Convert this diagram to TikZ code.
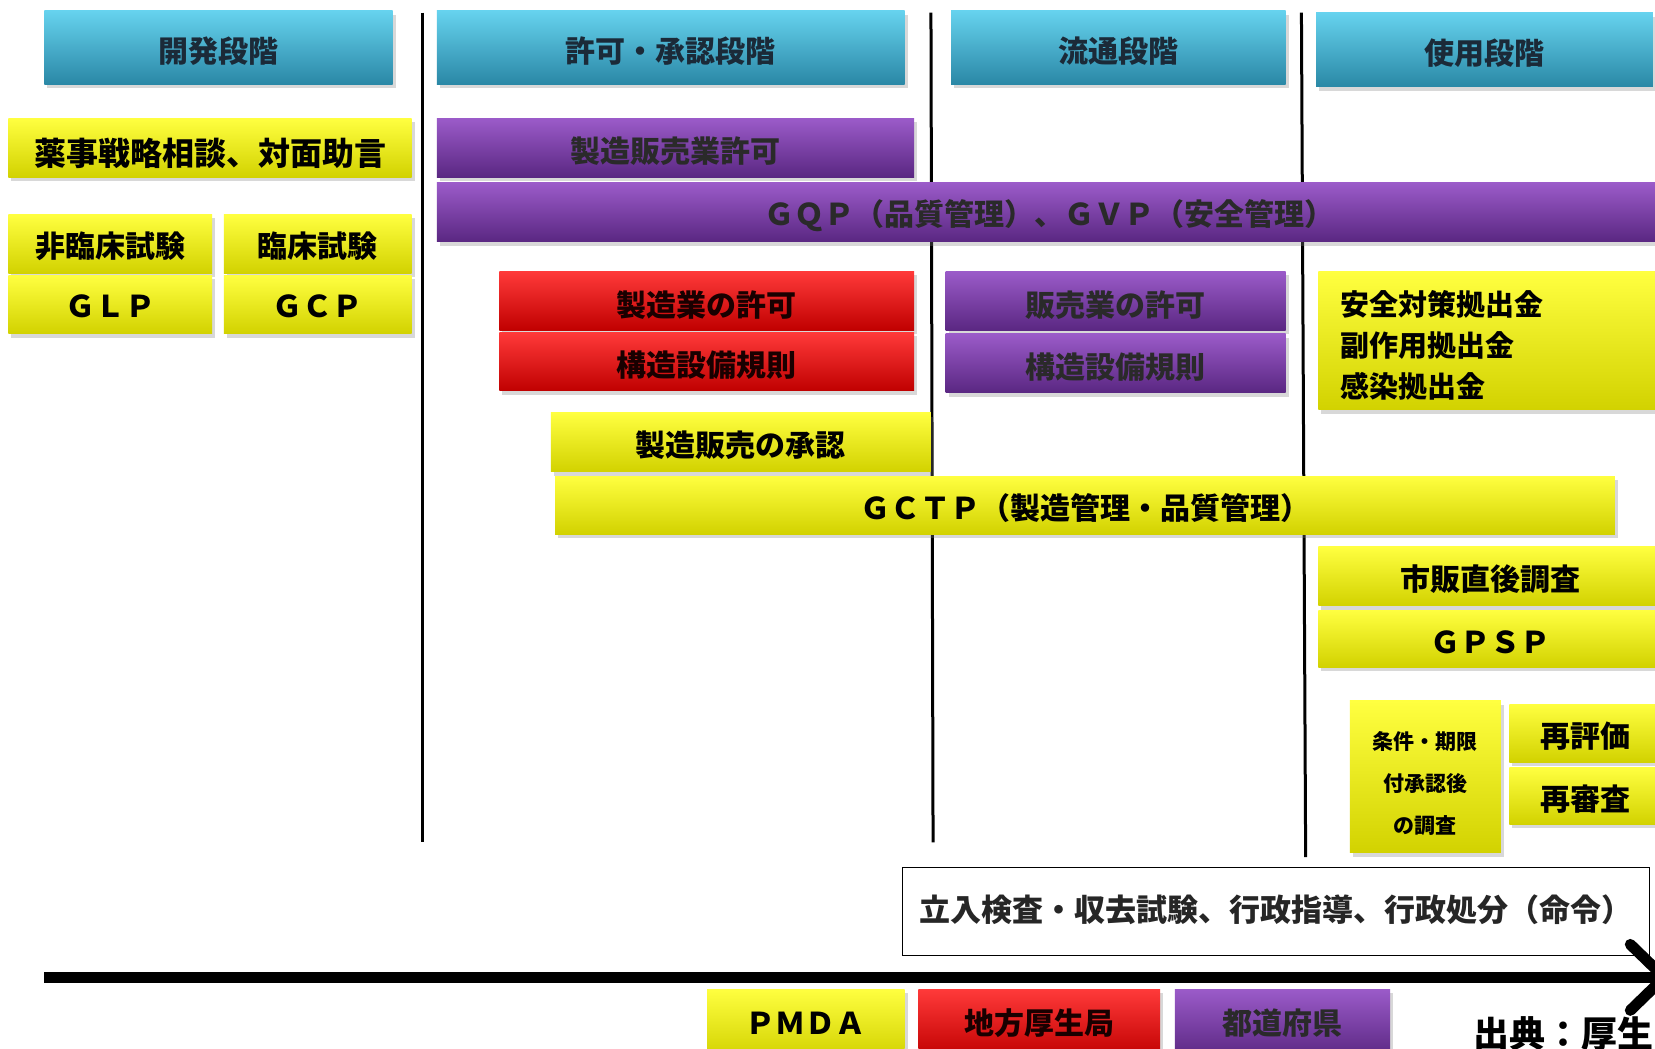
\documentclass[tikz,border=0pt]{standalone}
\usepackage{fontspec}
\setmainfont{Noto Sans CJK JP}
\usetikzlibrary{shadows,arrows.meta}
\definecolor{cyanT}{HTML}{66D2EE}
\definecolor{cyanM}{HTML}{3BB2D5}
\definecolor{cyanB}{HTML}{2A88A6}
\definecolor{yelT}{HTML}{FFFF40}
\definecolor{yelM}{HTML}{FFFF00}
\definecolor{yelB}{HTML}{D2D200}
\definecolor{redT}{HTML}{FF3A3A}
\definecolor{redM}{HTML}{FF0000}
\definecolor{redB}{HTML}{C00000}
\definecolor{purT}{HTML}{9B5BC9}
\definecolor{purM}{HTML}{7B3AA6}
\definecolor{purB}{HTML}{5A2782}
\definecolor{hdrtext}{HTML}{1B2A38}
\definecolor{purtext}{HTML}{2A2A2A}
\newcommand\txtshift{-3.4pt}
% place text so that its box centre sits \txtshift above the node centre
\newcommand\dn[1]{\setbox0\hbox{#1}%
  \dimen0=\dimexpr(\ht0-\dp0)/2-\txtshift\relax
  \setbox0\hbox{\lower\dimen0\box0}%
  \ht0=0pt \dp0=0pt \box0}
\newcommand\mkbox[7]{%
  \pgfmathsetmacro\bxcx{(#3+#5)/2*1.0555}%
  \pgfmathsetmacro\bxcy{-(#4+#6)/2*1.0555}%
  \pgfmathsetmacro\bxw{(#5-#3)*1.0555}%
  \pgfmathsetmacro\bxh{(#6-#4)*1.0555}%
  \node[#2, minimum width=\bxw pt, minimum height=\bxh pt] (#1) at (\bxcx pt,\bxcy pt) {\dn{#7}};}
\newcommand\mkpt[3]{%
  \pgfmathsetmacro\bxcx{#2*1.0555}%
  \pgfmathsetmacro\bxcy{-#3*1.0555}%
  \coordinate (#1) at (\bxcx pt,\bxcy pt);}
\tikzset{
  base/.style={inner sep=0pt, outer sep=0pt, font=\fontsize{30}{36}\selectfont\bfseries,
    drop shadow={shadow xshift=3pt, shadow yshift=-4pt, opacity=0.3}},
  hdr/.style={base, top color=cyanT, middle color=cyanM, bottom color=cyanB, text=hdrtext},
  yel/.style={base, top color=yelT, middle color=yelM, bottom color=yelB, text=black},
  redb/.style={base, top color=redT, middle color=redM, bottom color=redB, text=black!90!red},
  pur/.style={base, top color=purT, middle color=purM, bottom color=purB, text=purtext},
  divider/.style={line width=3pt, black},
}
\begin{document}
\begin{tikzpicture}
\useasboundingbox (0,0) rectangle (1655pt,-1049pt);
\clip (0,0) rectangle (1655pt,-1049pt);
\fill[white] (0,0) rectangle (1655pt,-1049pt);
% dividers
\mkpt{v1t}{400}{12}\mkpt{v1b}{400}{798}
\mkpt{v2t}{882}{12}\mkpt{v2b}{884}{798}
\mkpt{v3t}{1233}{12}\mkpt{v3b}{1237}{812}
\draw[divider] (v1t) -- (v1b);
\draw[divider] (v2t) -- (v2b);
\draw[divider] (v3t) -- (v3b);
% headers
\mkbox{h1}{hdr}{42}{10}{372}{80}{開発段階}
\mkbox{h2}{hdr}{414}{10}{857}{80}{許可・承認段階}
\mkbox{h3}{hdr}{901}{10}{1218}{80}{流通段階}
\mkbox{h4}{hdr}{1247}{12}{1566}{82}{使用段階}
% boxes
\renewcommand\txtshift{-5.3pt}
\mkbox{b1}{yel,font=\fontsize{32}{36}\selectfont\bfseries}{8}{112}{390}{168}{薬事戦略相談、対面助言}
\renewcommand\txtshift{-3.4pt}
\mkbox{b2}{pur}{414}{112}{866}{168}{製造販売業許可}
\mkbox{b3}{pur}{414}{173}{1575}{229}{ＧＱＰ（品質管理）、ＧＶＰ（安全管理）}
\renewcommand\txtshift{-2.2pt}
\mkbox{b4}{yel}{8}{203}{201}{259}{非臨床試験}
\mkbox{b5}{yel}{8}{261}{201}{316}{ＧＬＰ}
\mkbox{b6}{yel}{212}{203}{390}{259}{臨床試験}
\mkbox{b7}{yel}{212}{261}{390}{316}{ＧＣＰ}
\renewcommand\txtshift{-4pt}
\mkbox{b8}{redb}{473}{257}{866}{313}{製造業の許可}
\mkbox{b9}{redb}{473}{315}{866}{370}{構造設備規則}
\mkbox{b10}{pur}{896}{257}{1218}{313}{販売業の許可}
\mkbox{b11}{pur}{896}{316}{1218}{372}{構造設備規則}
\mkbox{b12}{yel}{1249}{257}{1575}{388}{}
\mkpt{b12t}{1270}{275}
\node[anchor=north west, inner sep=0pt, align=left, font=\fontsize{29}{41}\selectfont\bfseries] (b12text) at (b12t) {安全対策拠出金\\副作用拠出金\\感染拠出金};
\renewcommand\txtshift{-3.2pt}
\mkbox{b13}{yel}{522}{391}{882}{447}{製造販売の承認}
\mkbox{b14}{yel}{526}{451}{1530}{506}{ＧＣＴＰ（製造管理・品質管理）}
\mkbox{b15}{yel}{1249}{518}{1575}{574}{市販直後調査}
\mkbox{b16}{yel}{1249}{578}{1575}{632}{ＧＰＳＰ}
\renewcommand\txtshift{-6.3pt}
\mkbox{b17}{yel,font=\fontsize{21}{42}\selectfont\bfseries}{1279}{664}{1422}{808}{\begin{tabular}{@{}c@{}}条件・期限\\付承認後\\の調査\end{tabular}}
\renewcommand\txtshift{-3.2pt}
\mkbox{b18}{yel}{1430}{667}{1575}{722}{再評価}
\mkbox{b19}{yel}{1430}{727}{1575}{781}{再審査}
% white box
\renewcommand\txtshift{2pt}
\mkbox{wb}{draw=black, line width=1pt, fill=white, inner sep=0pt, font=\fontsize{31}{36}\selectfont\bfseries, text=black!85}{855}{822}{1563}{905}{立入検査・収去試験、行政指導、行政処分（命令）}
% time arrow
\mkpt{axs}{42}{926}\mkpt{axe}{1582}{926}
\draw[line width=11pt, -{Straight Barb[length=34pt, width=66pt, line width=11pt, round]}] (axs) -- (axe);
% legend
\renewcommand\txtshift{0pt}
\mkbox{l1}{yel}{670}{937}{857}{1002}{ＰＭＤＡ}
\mkbox{l2}{redb}{870}{937}{1099}{1002}{地方厚生局}
\mkbox{l3}{pur}{1113}{937}{1317}{1002}{都道府県}
\mkpt{srcp}{1396}{979}
\node[anchor=west, inner sep=0pt, font=\fontsize{36}{40}\selectfont\bfseries] (src) at (srcp) {出典：厚生};
\end{tikzpicture}
\end{document}
